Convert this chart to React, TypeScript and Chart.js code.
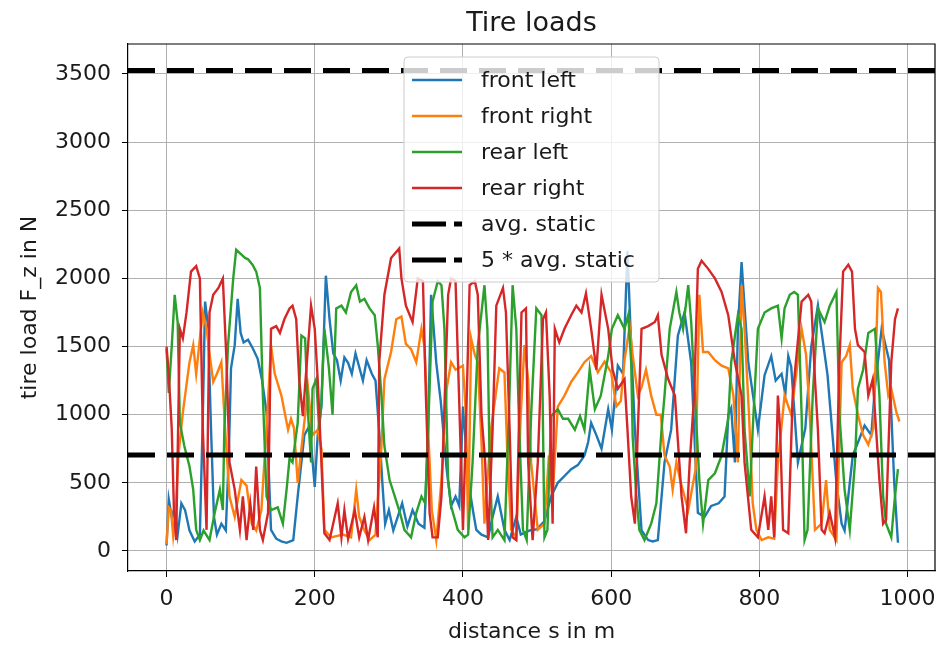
import { useEffect, useRef } from "react";
import { Chart, registerables } from "chart.js";

Chart.register(...registerables);

const FONT = "'DejaVu Sans', 'Liberation Sans', sans-serif";

const titleText = "Tire loads";
const xLabel = "distance s in m";
const yLabel = "tire load F_z in N";
const xTicks = [0, 200, 400, 600, 800, 1000];
const yTicks = [0, 500, 1000, 1500, 2000, 2500, 3000, 3500];
const xLimits = [-52, 1037];
const yLimits = [-147, 3720];

const avgStatic = 705;
const staticMultiplier = 5;

const seriesLabels = ["front left", "front right", "rear left", "rear right"];
const seriesColors = ["#1f77b4", "#ff7f0e", "#2ca02c", "#d62728"];
const refLabels = ["avg. static", "5 * avg. static"];

// [distance s in m, tire load in N]
const frontLeft: [number, number][] = [
  [0, 40], [3, 380], [7, 250], [11, 320], [15, 120], [20, 350], [25, 300], [31, 150], [38, 70], [45, 120],
  [49, 1000], [52, 1830], [56, 1650], [60, 900], [64, 250], [68, 120], [74, 200], [80, 150], [84, 700], [87, 1340],
  [92, 1510], [96, 1850], [100, 1600], [104, 1530], [110, 1550], [117, 1480], [123, 1410], [129, 1250], [135, 1015], [141, 155],
  [148, 90], [155, 70], [162, 60], [171, 80], [177, 400], [186, 850], [193, 920], [200, 470], [204, 850], [209, 1060],
  [215, 2020], [220, 1700], [225, 1450], [230, 1400], [235, 1250], [240, 1420], [245, 1380], [250, 1300], [255, 1450], [260, 1350],
  [265, 1250], [270, 1400], [277, 1300], [282, 1250], [288, 800], [291, 520], [295, 200], [300, 300], [306, 150], [312, 250],
  [318, 350], [325, 180], [332, 300], [340, 200], [348, 170], [353, 900], [357, 1880], [364, 1380], [370, 1100], [378, 600],
  [384, 330], [390, 400], [395, 330], [400, 1060], [405, 700], [409, 450], [414, 280], [418, 155], [425, 120], [434, 100],
  [440, 250], [447, 400], [456, 155], [463, 80], [472, 250], [478, 120], [490, 150], [500, 160], [510, 220], [519, 400],
  [528, 500], [537, 550], [546, 600], [555, 630], [564, 700], [569, 800], [573, 940], [580, 850], [587, 750], [596, 1040],
  [601, 890], [609, 1360], [616, 1300], [622, 2200], [627, 1500], [632, 890], [641, 150], [650, 80], [656, 70], [663, 80],
  [672, 650], [681, 890], [690, 1580], [699, 1750], [708, 1380], [717, 280], [726, 250], [735, 330], [745, 350], [753, 400],
  [758, 1000], [762, 1050], [767, 650], [771, 1630], [776, 2120], [785, 1385], [798, 890], [807, 1290], [816, 1430], [822, 1250],
  [830, 1300], [835, 1150], [839, 1430], [843, 1350], [852, 650], [862, 900], [870, 1500], [879, 1800], [892, 1290], [904, 500],
  [911, 200], [915, 150], [926, 700], [942, 920], [951, 850], [956, 1200], [965, 1630], [975, 1400], [982, 500], [987, 60],
];

const frontRight: [number, number][] = [
  [0, 50], [3, 320], [6, 300], [9, 110], [12, 250], [16, 700], [22, 1015], [31, 1385], [36, 1510], [40, 1300],
  [45, 1560], [49, 1750], [54, 1630], [58, 1450], [63, 1240], [68, 1300], [74, 1385], [79, 900], [85, 400], [92, 250],
  [101, 520], [108, 480], [115, 200], [121, 150], [128, 300], [136, 1000], [141, 1510], [146, 1300], [155, 1140], [164, 890],
  [168, 970], [172, 900], [177, 500], [184, 850], [191, 1190], [197, 850], [204, 890], [209, 750], [213, 155], [222, 100],
  [238, 120], [249, 100], [256, 450], [260, 250], [267, 150], [274, 80], [282, 120], [290, 770], [294, 1260], [303, 1460],
  [310, 1700], [317, 1720], [323, 1520], [330, 1480], [337, 1385], [344, 1630], [348, 1500], [353, 890], [358, 300], [364, 80],
  [371, 520], [378, 1190], [384, 1385], [390, 1330], [400, 1360], [404, 1000], [407, 155], [411, 1560], [416, 1440], [420, 1385],
  [425, 800], [429, 200], [438, 900], [449, 1340], [456, 1310], [460, 700], [465, 155], [472, 100], [478, 1000], [483, 1510],
  [488, 1260], [492, 650], [501, 155], [510, 200], [516, 700], [521, 400], [528, 1060], [537, 1140], [546, 1240], [555, 1310],
  [564, 1385], [573, 1430], [582, 1310], [591, 1390], [600, 1310], [607, 1060], [613, 1100], [618, 1400], [625, 1650], [629, 1440],
  [636, 1140], [641, 1200], [647, 1330], [654, 1140], [661, 1000], [667, 1000], [672, 700], [679, 620], [683, 450], [688, 650],
  [694, 500], [704, 300], [714, 600], [719, 1880], [724, 1460], [731, 1460], [740, 1400], [749, 1360], [758, 1340], [765, 1140],
  [771, 650], [776, 1950], [780, 1630], [786, 1000], [791, 350], [796, 155], [803, 80], [812, 100], [820, 90], [825, 650],
  [834, 1140], [843, 1000], [852, 1400], [857, 1630], [863, 1440], [868, 1000], [875, 155], [884, 200], [890, 520], [895, 155],
  [904, 80], [911, 1385], [917, 1430], [922, 1510], [926, 1190], [933, 1000], [940, 850], [947, 780], [954, 900], [960, 1930],
  [964, 1900], [969, 1385], [974, 1140], [978, 1190], [985, 1015], [989, 950],
];

const rearLeft: [number, number][] = [
  [0, 1480], [3, 1160], [7, 1500], [11, 1880], [15, 1680], [18, 940], [24, 770], [31, 620], [36, 450], [40, 155],
  [45, 80], [50, 150], [58, 80], [65, 280], [72, 450], [76, 300], [78, 890], [83, 1510], [90, 2000], [94, 2210],
  [100, 2180], [106, 2150], [110, 2140], [116, 2100], [121, 2050], [126, 1930], [130, 1140], [135, 400], [141, 300], [150, 320],
  [157, 200], [162, 450], [166, 680], [170, 650], [177, 940], [182, 1580], [187, 1560], [191, 1000], [195, 650], [197, 1190],
  [202, 1260], [206, 890], [209, 1090], [213, 1630], [219, 1350], [224, 1000], [229, 1780], [236, 1800], [242, 1750], [249, 1900],
  [256, 1950], [261, 1830], [267, 1850], [274, 1780], [281, 1730], [285, 1510], [290, 1140], [294, 770], [301, 520], [308, 400],
  [315, 280], [321, 155], [330, 100], [337, 280], [344, 400], [349, 350], [353, 890], [359, 1830], [366, 1980], [371, 1950],
  [375, 1630], [380, 520], [384, 330], [393, 155], [402, 100], [407, 120], [413, 650], [420, 1500], [429, 1950], [433, 1630],
  [436, 650], [440, 100], [447, 155], [456, 80], [462, 1000], [467, 1950], [472, 1630], [476, 890], [481, 155], [486, 80],
  [492, 1000], [499, 1780], [506, 1730], [510, 100], [514, 155], [519, 990], [528, 1040], [535, 970], [542, 970], [551, 890],
  [558, 990], [564, 890], [571, 1330], [578, 1040], [586, 1140], [596, 1430], [601, 1630], [609, 1730], [618, 1630], [623, 1730],
  [627, 1385], [629, 840], [634, 400], [638, 155], [645, 80], [654, 200], [661, 350], [668, 890], [672, 1140], [679, 1630],
  [688, 1900], [692, 1750], [697, 1630], [704, 1950], [708, 1680], [713, 1140], [719, 520], [724, 200], [731, 520], [740, 570],
  [749, 700], [758, 970], [762, 1385], [771, 1730], [776, 1630], [780, 890], [787, 400], [791, 890], [798, 1630], [807, 1750],
  [816, 1780], [825, 1800], [830, 1560], [834, 1780], [841, 1880], [847, 1900], [852, 1880], [857, 1000], [861, 80], [865, 155],
  [872, 1140], [879, 1780], [888, 1680], [895, 1800], [904, 1900], [908, 1000], [915, 450], [922, 155], [929, 650], [933, 1190],
  [940, 1330], [947, 1600], [956, 1630], [962, 1140], [967, 400], [971, 200], [978, 100], [983, 400], [987, 600],
];

const rearRight: [number, number][] = [
  [0, 1500], [3, 1300], [7, 900], [10, 300], [13, 80], [18, 1630], [22, 1560], [27, 1750], [33, 2050], [40, 2090],
  [45, 2000], [49, 890], [54, 155], [58, 1750], [63, 1880], [70, 1930], [76, 2000], [81, 1385], [85, 650], [92, 450],
  [99, 155], [103, 400], [108, 80], [113, 350], [117, 155], [121, 620], [126, 155], [130, 80], [137, 280], [141, 1630],
  [148, 1650], [153, 1600], [159, 1700], [166, 1780], [170, 1800], [175, 1700], [179, 1260], [184, 990], [195, 1800], [200, 1630],
  [204, 1260], [209, 650], [213, 130], [220, 80], [231, 350], [236, 100], [240, 300], [245, 90], [254, 300], [260, 100],
  [267, 250], [272, 80], [280, 320], [285, 100], [287, 1385], [294, 1880], [303, 2150], [314, 2220], [317, 2000], [323, 1800],
  [332, 1680], [339, 2000], [346, 1980], [350, 1140], [355, 280], [359, 100], [366, 100], [371, 400], [380, 1880], [384, 2000],
  [390, 1980], [395, 1090], [400, 155], [404, 900], [409, 1950], [416, 1980], [420, 1880], [425, 1000], [430, 650], [434, 80],
  [440, 890], [445, 1800], [454, 1930], [458, 1750], [463, 890], [467, 100], [472, 80], [479, 1750], [485, 1780], [488, 650],
  [494, 80], [501, 650], [508, 1700], [512, 1750], [517, 1140], [521, 200], [524, 1630], [530, 1530], [537, 1630], [546, 1730],
  [553, 1800], [560, 1750], [566, 1890], [573, 1630], [580, 1330], [587, 1880], [596, 1630], [602, 1330], [609, 1190], [618, 1260],
  [622, 890], [627, 400], [632, 200], [636, 890], [641, 1630], [650, 1650], [659, 1680], [663, 1730], [668, 1440], [677, 1260],
  [686, 1140], [695, 400], [701, 130], [706, 650], [712, 1140], [717, 2070], [722, 2130], [731, 2070], [740, 2000], [749, 1900],
  [758, 1730], [767, 1385], [776, 1140], [780, 650], [789, 155], [798, 100], [807, 400], [812, 155], [816, 400], [820, 100],
  [825, 1140], [828, 890], [832, 155], [839, 130], [845, 1140], [857, 1830], [866, 1880], [870, 1830], [875, 1260], [879, 890],
  [884, 155], [888, 130], [895, 280], [902, 100], [908, 1385], [913, 2050], [920, 2100], [925, 2050], [929, 1630], [933, 1510],
  [942, 1460], [947, 1140], [953, 1260], [962, 520], [967, 200], [971, 230], [978, 1385], [983, 1700], [987, 1780],
];

const seriesData = [frontLeft, frontRight, rearLeft, rearRight];
const dashPattern = [27, 12];
const legendDashPattern = [34, 8];

const overlayPlugin = {
  id: "mplOverlay",
  afterDraw(chart: any) {
    const { ctx, chartArea } = chart;
    const { left, right, top, bottom } = chartArea;
    const cx = (left + right) / 2;
    ctx.save();

    // frame (top and right spines)
    ctx.strokeStyle = "#000";
    ctx.lineWidth = 1.2;
    ctx.beginPath();
    ctx.moveTo(left, top);
    ctx.lineTo(right, top);
    ctx.lineTo(right, bottom);
    ctx.stroke();

    // title and axis labels
    ctx.fillStyle = "#1a1a1a";
    ctx.textAlign = "center";
    ctx.textBaseline = "alphabetic";
    ctx.font = `27px ${FONT}`;
    ctx.fillText(titleText, cx, top - 13);
    ctx.font = `22px ${FONT}`;
    ctx.fillText(xLabel, cx, bottom + 67);
    ctx.save();
    ctx.translate(36, (top + bottom) / 2);
    ctx.rotate(-Math.PI / 2);
    ctx.fillText(yLabel, 0, 0);
    ctx.restore();

    // legend (upper center)
    const lw = 255;
    const lh = 225;
    const lx = cx - lw / 2;
    const ly = top + 13;
    ctx.beginPath();
    if ((ctx as any).roundRect) (ctx as any).roundRect(lx, ly, lw, lh, 4);
    else ctx.rect(lx, ly, lw, lh);
    ctx.fillStyle = "rgba(255,255,255,0.8)";
    ctx.fill();
    ctx.strokeStyle = "#cccccc";
    ctx.lineWidth = 1;
    ctx.stroke();

    const labels = [...seriesLabels, ...refLabels];
    ctx.font = `22px ${FONT}`;
    ctx.textAlign = "left";
    ctx.textBaseline = "middle";
    labels.forEach((lab, i) => {
      const yc = ly + 23 + i * 36;
      ctx.beginPath();
      ctx.moveTo(lx + 8, yc);
      ctx.lineTo(lx + 58, yc);
      if (i < seriesLabels.length) {
        ctx.setLineDash([]);
        ctx.strokeStyle = seriesColors[i];
        ctx.lineWidth = 2.4;
      } else {
        ctx.setLineDash(legendDashPattern);
        ctx.strokeStyle = "#000";
        ctx.lineWidth = 5;
      }
      ctx.stroke();
      ctx.setLineDash([]);
      ctx.fillStyle = "#1a1a1a";
      ctx.fillText(lab, lx + 77, yc + 1);
    });
    ctx.restore();
  },
};

export default function App() {
  const canvasRef = useRef<HTMLCanvasElement | null>(null);

  useEffect(() => {
    const canvas = canvasRef.current;
    if (!canvas) return;

    const datasets: any[] = seriesData.map((pts, i) => ({
      label: seriesLabels[i],
      data: pts.map(([s, f]) => ({ x: s, y: f })),
      borderColor: seriesColors[i],
      backgroundColor: seriesColors[i],
      borderWidth: 2.4,
      pointRadius: 0,
      tension: 0,
      fill: false,
      clip: 0,
      order: seriesData.length - i,
    }));

    [avgStatic, avgStatic * staticMultiplier].forEach((v, k) => {
      datasets.push({
        label: refLabels[k],
        data: [
          { x: xLimits[0], y: v },
          { x: xLimits[1], y: v },
        ],
        borderColor: "#000",
        backgroundColor: "#000",
        borderWidth: 5,
        borderDash: dashPattern,
        borderCapStyle: "butt",
        pointRadius: 0,
        fill: false,
        clip: 0,
        order: 0,
      });
    });

    const tickFont = { family: FONT, size: 22 };
    const zeroPad = (s: any) => {
      s.paddingLeft = 0;
      s.paddingRight = 0;
      s.paddingTop = 0;
      s.paddingBottom = 0;
    };

    const chart = new Chart(canvas, {
      type: "line",
      data: { datasets },
      plugins: [overlayPlugin],
      options: {
        animation: false,
        responsive: false,
        events: [],
        layout: { padding: { top: 44, right: 3, left: 0, bottom: 0 } },
        plugins: {
          legend: { display: false },
          title: { display: false },
          tooltip: { enabled: false },
        },
        scales: {
          x: {
            type: "linear",
            min: xLimits[0],
            max: xLimits[1],
            afterBuildTicks: (s: any) => {
              s.ticks = xTicks.map((v) => ({ value: v }));
            },
            afterFit: (s: any) => {
              s.height = 77;
              zeroPad(s);
            },
            ticks: {
              font: tickFont,
              color: "#1a1a1a",
              padding: 9,
              maxRotation: 0,
              autoSkip: false,
              callback: (v: any) => String(v),
            },
            grid: {
              color: "#b0b0b0",
              lineWidth: 1,
              tickLength: 6,
              tickColor: "#000",
              drawTicks: true,
            },
            border: { color: "#000", width: 1.2 },
          },
          y: {
            type: "linear",
            min: yLimits[0],
            max: yLimits[1],
            afterBuildTicks: (s: any) => {
              s.ticks = yTicks.map((v) => ({ value: v }));
            },
            afterFit: (s: any) => {
              s.width = 128;
              zeroPad(s);
            },
            ticks: {
              font: tickFont,
              color: "#1a1a1a",
              padding: 11,
              autoSkip: false,
              callback: (v: any) => String(v),
            },
            grid: {
              color: "#b0b0b0",
              lineWidth: 1,
              tickLength: 6,
              tickColor: "#000",
              drawTicks: true,
            },
            border: { color: "#000", width: 1.2 },
          },
        },
      } as any,
    });

    return () => chart.destroy();
  }, []);

  return (
    <div
      style={{
        position: "fixed",
        left: 0,
        top: 0,
        width: 938,
        height: 648,
        background: "#fff",
      }}
    >
      <canvas ref={canvasRef} width={938} height={648} style={{ width: 938, height: 648, display: "block" }} />
    </div>
  );
}
